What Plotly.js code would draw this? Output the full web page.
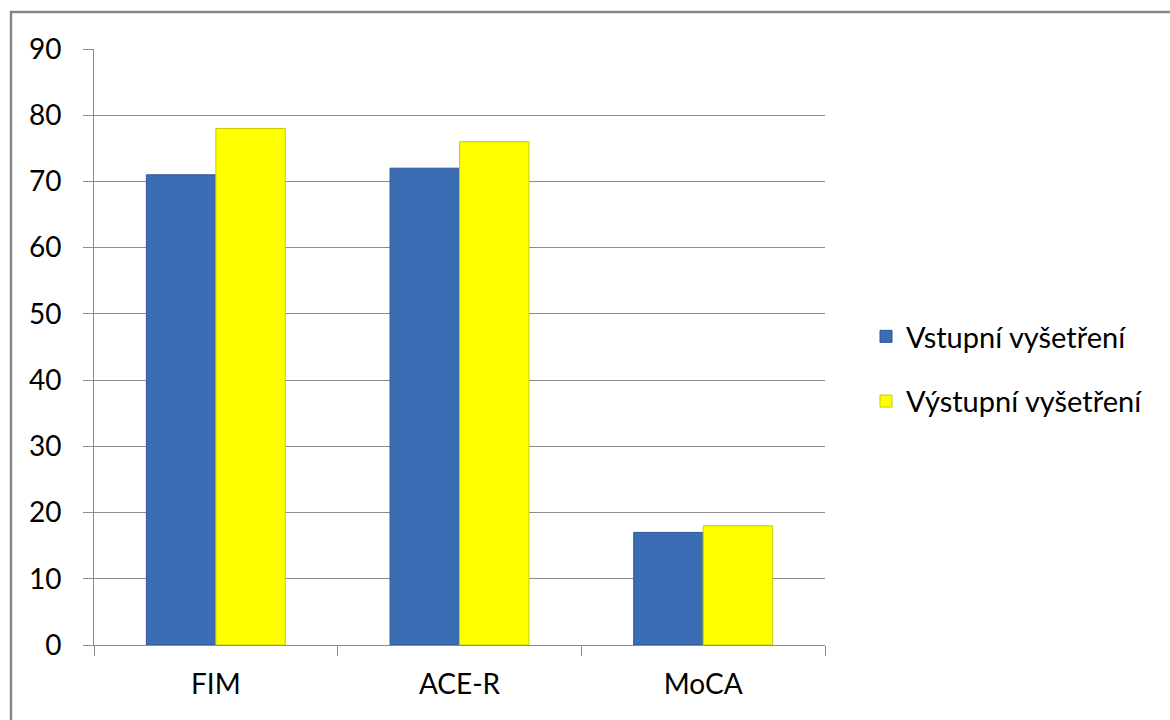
<!DOCTYPE html>
<html>
<head>
<meta charset="utf-8">
<script src="https://cdn.plot.ly/plotly-3.0.1.min.js"></script>
<style>
html,body{margin:0;padding:0;background:#fff;}
#chart{width:1170px;height:720px;}
</style>
</head>
<body>
<div id="chart"></div>
<script>
const categories = ["FIM", "ACE-R", "MoCA"];
const seriesNames = ["Vstupní vyšetření", "Výstupní vyšetření"];
const vstupni = [71, 72, 17];
const vystupni = [78, 76, 18];
const yTicks = [0, 10, 20, 30, 40, 50, 60, 70, 80, 90];

const font = "Lato, 'Open Sans', sans-serif";

const traces = [
  {
    type: "bar", name: seriesNames[0], x: categories, y: vstupni,
    legendgroup: "a",
    marker: {color: "#3A6DB3", line: {color: "#2B5592", width: 1}},
    hoverinfo: "x+y"
  },
  {
    type: "bar", name: seriesNames[1], x: categories, y: vystupni,
    legendgroup: "b",
    marker: {color: "#FFFF00", line: {color: "#C9C900", width: 1}},
    hoverinfo: "x+y"
  }
];

const L = 94, R = 825, T = 49, B = 645;
const pw = R - L, ph = B - T;
function px(x){ return (x - L) / pw; }
function py(y){ return (B - y) / ph; }

const layout = {
  width: 1170, height: 720,
  margin: {l: L, r: 1170 - R, t: T, b: 720 - B},
  paper_bgcolor: "#fff", plot_bgcolor: "#fff",
  font: {family: font, size: 28, color: "#000"},
  barmode: "group",
  bargap: 0.43, bargroupgap: 0,
  showlegend: true,
  legend: {
    x: px(866), xanchor: "left", y: py(369), yanchor: "middle",
    font: {family: font, size: 29, color: "#000"},
    traceorder: "grouped", tracegroupgap: 24,
    itemwidth: 30, bgcolor: "rgba(0,0,0,0)"
  },
  xaxis: {
    type: "category",
    showline: true, linecolor: "#8C8C8C", linewidth: 1,
    ticks: "outside", tickson: "boundaries", ticklen: 10, tickcolor: "#8C8C8C", tickwidth: 1,
    showgrid: false, zeroline: false,
    ticklabelstandoff: 14,
    tickfont: {family: font, size: 28, color: "#000"}
  },
  yaxis: {
    range: [0, 90], tickvals: yTicks, ticktext: yTicks.map(String),
    showline: true, linecolor: "#8C8C8C", linewidth: 1,
    ticks: "outside", ticklen: 10, tickcolor: "#8C8C8C", tickwidth: 1,
    showgrid: true, gridcolor: "#8C8C8C", gridwidth: 1,
    zeroline: false,
    ticklabelstandoff: 16,
    tickfont: {family: font, size: 28, color: "#000"}
  },
  shapes: [
    {type: "rect", xref: "paper", yref: "paper",
     x0: px(11), x1: px(1200), y0: py(12), y1: py(800),
     line: {color: "#868686", width: 2.5}, fillcolor: "rgba(0,0,0,0)", layer: "below"}
  ]
};

Plotly.newPlot("chart", traces, layout, {displayModeBar: false, staticPlot: true});
</script>
</body>
</html>
